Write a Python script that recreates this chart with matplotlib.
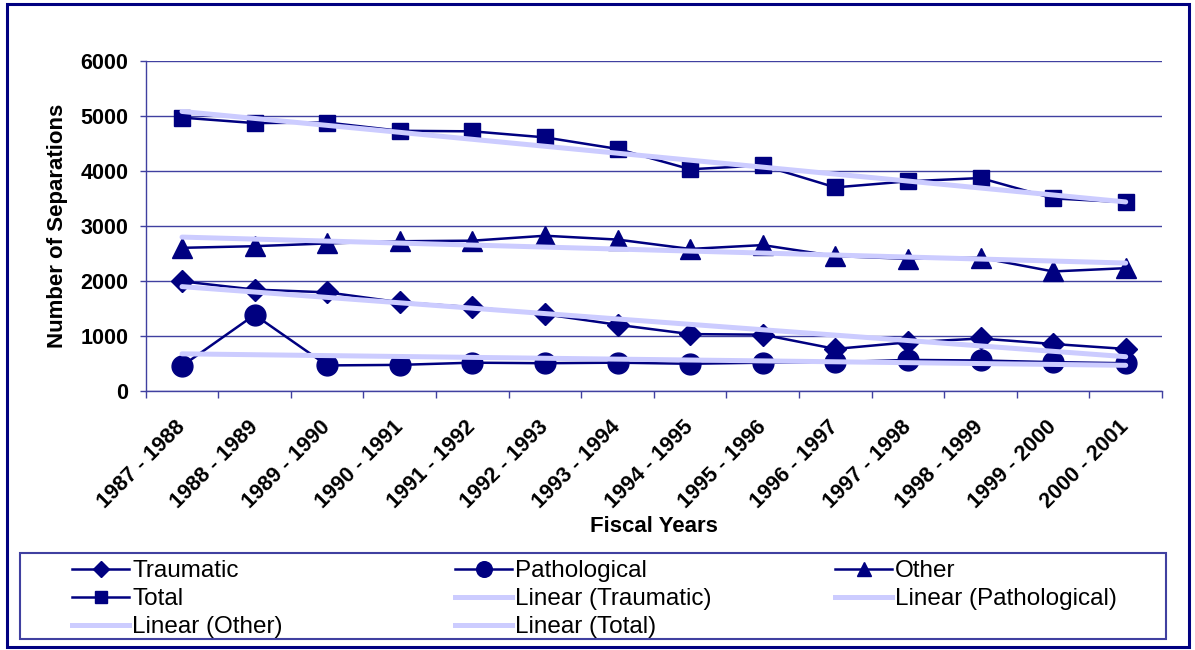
import matplotlib
matplotlib.use('Agg')

import numpy as np
import matplotlib.pyplot as plt
from matplotlib.lines import Line2D
from matplotlib.patches import Rectangle
from matplotlib.transforms import ScaledTranslation

plt.rcParams['font.family'] = ['Liberation Sans', 'DejaVu Sans']

fiscal_years = ['1987 - 1988', '1988 - 1989', '1989 - 1990', '1990 - 1991',
                '1991 - 1992', '1992 - 1993', '1993 - 1994', '1994 - 1995',
                '1995 - 1996', '1996 - 1997', '1997 - 1998', '1998 - 1999',
                '1999 - 2000', '2000 - 2001']
traumatic = [1990, 1840, 1790, 1610, 1520, 1390, 1200, 1030, 1020, 760, 880, 950, 850, 760]
pathological = [450, 1380, 460, 470, 510, 500, 510, 490, 510, 520, 560, 550, 520, 500]
other = [2600, 2630, 2680, 2720, 2730, 2820, 2750, 2580, 2650, 2450, 2400, 2420, 2170, 2230]
total = [4970, 4870, 4880, 4730, 4720, 4610, 4400, 4030, 4100, 3700, 3810, 3870, 3500, 3430]

navy = '#000080'
trend_col = '#CCCCFF'
axis_col = '#4040A0'

W, H = 1195, 650
fig = plt.figure(figsize=(W / 100, H / 100), dpi=100)
ax = fig.add_axes([145.7 / W, 1 - 390.7 / H, (1162 - 145.7) / W, (390.7 - 61) / H])

x = np.arange(len(fiscal_years))
series = [
    ('Traumatic', traumatic, 'D', 11),
    ('Pathological', pathological, 'o', 15),
    ('Other', other, '^', 14),
    ('Total', total, 's', 11),
]

# data lines
for name, vals, mk, ms in series:
    ax.plot(x, vals, color=navy, lw=1.8, marker=mk, ms=ms,
            mfc=navy, mec=navy, zorder=3, clip_on=False)

# linear trend lines on top
for name, vals, mk, ms in series:
    k, b = np.polyfit(x, vals, 1)
    ax.plot(x, k * x + b, color=trend_col, lw=3.6, solid_capstyle='round',
            zorder=4, clip_on=False)

ax.set_xlim(-0.5, len(x) - 0.5)
ax.set_ylim(0, 6000)
ax.set_yticks(range(0, 6001, 1000))
ax.yaxis.grid(True, color=axis_col, lw=1)
ax.set_axisbelow(True)

for s in ['top', 'right']:
    ax.spines[s].set_visible(False)
for s in ['left', 'bottom']:
    ax.spines[s].set_color(axis_col)
    ax.spines[s].set_linewidth(1)

ax.set_xticks(x)
ax.set_xticklabels(fiscal_years, rotation=45, ha='right', va='center',
                   rotation_mode='anchor', fontsize=15.5, fontweight='bold')
shift = ScaledTranslation(-5 / 100, 0, fig.dpi_scale_trans)
for t in ax.get_xticklabels():
    t.set_transform(t.get_transform() + shift)
ax.set_xticks(np.arange(-0.5, len(x)), minor=True)
ax.tick_params(axis='x', which='major', length=0, pad=24)
ax.tick_params(axis='x', which='minor', length=5, color=axis_col, width=1)
ax.tick_params(axis='y', length=4.3, color=axis_col, width=1, pad=8,
               labelsize=15.5)
for t in ax.get_yticklabels():
    t.set_fontweight('bold')

ax.set_xlabel('Fiscal Years', fontsize=16, fontweight='bold')
ax.xaxis.set_label_coords(0.5, -0.38)
ax.set_ylabel('Number of Separations', fontsize=16, fontweight='bold')
ax.yaxis.set_label_coords(-0.076, 0.5)

# legend: box plus three columns
fig.patches.append(Rectangle((20 / W, 1 - 639 / H), (1166 - 20) / W, (639 - 553) / H,
                             transform=fig.transFigure, fill=False,
                             edgecolor=axis_col, lw=1.5))

def series_handle(mk, ms):
    return Line2D([], [], color=navy, lw=1.8, marker=mk, ms=ms * 0.75,
                  mfc=navy, mec=navy)

trend_handle = Line2D([], [], color=trend_col, lw=3.6)
handles = {
    'Traumatic': series_handle('D', 11),
    'Pathological': series_handle('o', 15),
    'Other': series_handle('^', 14),
    'Total': series_handle('s', 11),
}
columns = [
    (72, ['Traumatic', 'Total', 'Linear (Other)']),
    (455, ['Pathological', 'Linear (Traumatic)', 'Linear (Total)']),
    (835, ['Other', 'Linear (Pathological)']),
]
for xpos, names in columns:
    hs = [handles.get(n, trend_handle) for n in names]
    leg = fig.legend(hs, names, loc='upper left',
                     bbox_to_anchor=(xpos / W, 1 - 560 / H),
                     frameon=False, borderpad=0, borderaxespad=0,
                     handlelength=2.35, handletextpad=0.12,
                     labelspacing=0.25, fontsize=17.5)

# outer frame
fig.patches.append(Rectangle((7 / W, 1 - 647 / H), (1189 - 7) / W, (647 - 4) / H,
                             transform=fig.transFigure, fill=False,
                             edgecolor=navy, lw=2.2))

plt.savefig('out.png', dpi=100)
plt.close()
